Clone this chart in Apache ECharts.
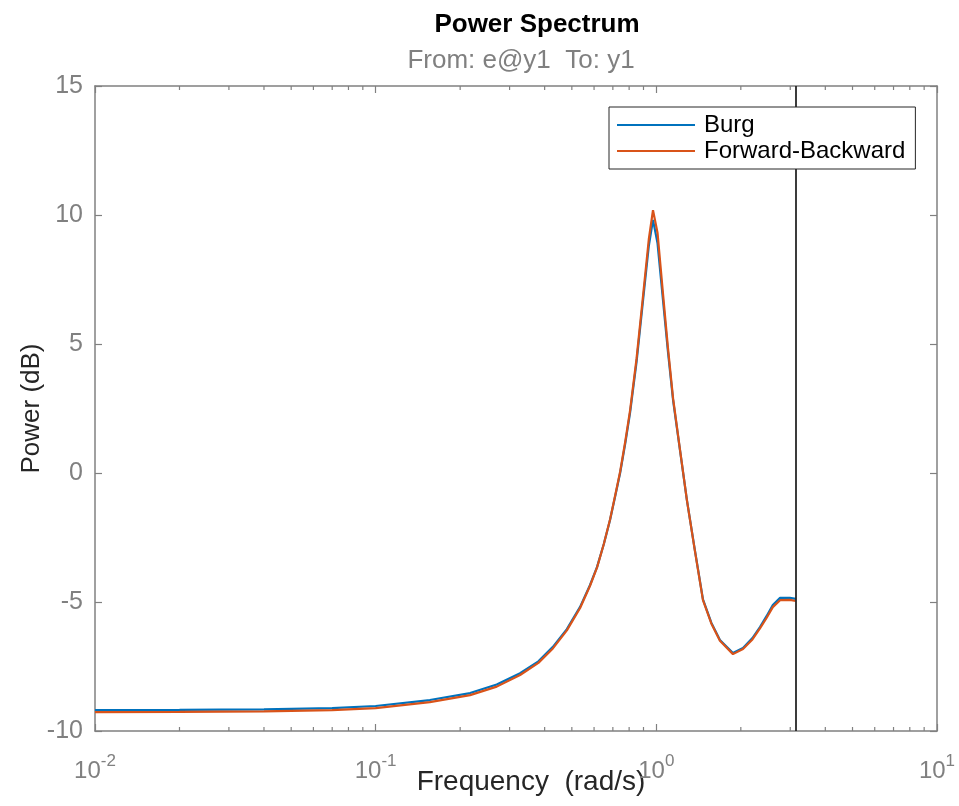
<!DOCTYPE html>
<html>
<head>
<meta charset="utf-8">
<title>Power Spectrum</title>
<script src="https://cdn.jsdelivr.net/npm/echarts@6/dist/echarts.min.js"></script>
<style>
	html, body { margin: 0; padding: 0; background: #fff; }
	#chart { width: 959px; height: 806px; }
</style>
</head>
<body>
<div id="chart"></div>
<script>
// frequency grid (rad/s)
const freq = [0.01, 0.02, 0.04, 0.07, 0.1, 0.156, 0.217, 0.27, 0.327, 0.38, 0.428, 0.48,
	0.535, 0.58, 0.615, 0.65, 0.684, 0.715, 0.743, 0.775, 0.806, 0.85, 0.897, 0.94, 0.973,
	1.01, 1.056, 1.1, 1.147, 1.21, 1.285, 1.37, 1.466, 1.57, 1.685, 1.875, 2.036, 2.2, 2.34,
	2.47, 2.6, 2.76, 2.99, 3.14];
// Burg
const burg = [-9.19, -9.18, -9.16, -9.11, -9.03, -8.80, -8.53, -8.2, -7.76, -7.3, -6.74, -6.05,
	-5.19, -4.35, -3.64, -2.75, -1.82, -0.85, 0.0, 1.15, 2.33, 4.3, 6.71, 8.8, 9.81,
	8.9, 6.71, 4.7, 2.83, 1.0, -1.05, -2.95, -4.9, -5.8, -6.47, -6.98, -6.78, -6.4, -5.97,
	-5.55, -5.12, -4.84, -4.84, -4.88];
// Forward-Backward
const fwdBwd = [-9.27, -9.26, -9.24, -9.19, -9.11, -8.88, -8.61, -8.28, -7.83, -7.36, -6.8, -6.1,
	-5.23, -4.38, -3.66, -2.75, -1.8, -0.82, 0.05, 1.22, 2.42, 4.42, 6.88, 9.05, 10.19,
	9.3, 6.95, 4.85, 2.9, 1.02, -1.05, -2.97, -4.93, -5.83, -6.5, -7.02, -6.82, -6.45, -6.02,
	-5.62, -5.2, -4.93, -4.92, -4.96];
const nyquist = 3.1416; // vertical line
const minorTicks = [0.02, 0.03, 0.04, 0.05, 0.06, 0.07, 0.08, 0.09,
	0.2, 0.3, 0.4, 0.5, 0.6, 0.7, 0.8, 0.9,
	2, 3, 4, 5, 6, 7, 8, 9];

const FONT = "'Liberation Sans', Arial, sans-serif";
const GRAY = '#808080';

const chart = echarts.init(document.getElementById('chart'));

const logAxis = (pos, showLabel) => ({
	type: 'log',
	logBase: 10,
	min: 0.01,
	max: 10,
	position: pos,
	axisLine: { show: true, onZero: false, lineStyle: { color: GRAY, width: 1.5 } },
	axisTick: { show: true, inside: true, length: 7, lineStyle: { color: GRAY, width: 1.2 } },
	splitLine: { show: false },
	minorTick: { show: false },
	axisLabel: {
		show: showLabel,
		margin: 22,
		formatter: v => '{b|10}{s|' + Math.round(Math.log10(v)) + '}',
		rich: {
			b: { fontFamily: FONT, fontSize: 24, color: GRAY, verticalAlign: 'bottom' },
			s: { fontFamily: FONT, fontSize: 17, color: GRAY, padding: [0, 0, 13, 0], verticalAlign: 'bottom' }
		}
	}
});

const valAxis = (pos, showLabel) => ({
	type: 'value',
	min: -10,
	max: 15,
	interval: 5,
	position: pos,
	axisLine: { show: true, onZero: false, lineStyle: { color: GRAY, width: 1.5 } },
	axisTick: { show: true, inside: true, length: 7, lineStyle: { color: GRAY, width: 1.2 } },
	splitLine: { show: false },
	axisLabel: { show: showLabel, margin: 12, fontFamily: FONT, fontSize: 25, color: GRAY }
});

const xMain = logAxis('bottom', true);
xMain.name = 'Frequency  (rad/s)';
xMain.nameLocation = 'middle';
xMain.nameGap = 37;
xMain.nameMoveOverlap = false;
xMain.nameTextStyle = { fontFamily: FONT, fontSize: 28, color: '#262626', padding: [0, 0, 0, 30] };

const yMain = valAxis('left', true);
yMain.name = 'Power (dB)';
yMain.nameLocation = 'middle';
yMain.nameGap = 50;
yMain.nameMoveOverlap = false;
yMain.nameTextStyle = { fontFamily: FONT, fontSize: 26, color: '#262626' };

const options = {
	animation: false,
	textStyle: { fontFamily: FONT },
	title: [
		{
			text: 'Power Spectrum',
			left: 532, textAlign: 'center', top: 7,
			textStyle: { fontFamily: FONT, fontSize: 26, fontWeight: 'bold', color: '#000' }
		},
		{
			text: 'From: e@y1  To: y1',
			left: 516, textAlign: 'center', top: 43,
			textStyle: { fontFamily: FONT, fontSize: 26, fontWeight: 'normal', color: GRAY }
		}
	],
	legend: {
		data: ['Burg', 'Forward-Backward'],
		orient: 'vertical',
		left: 609,
		top: 107,
		z: 20,
		padding: [6, 10, 6, 8],
		itemGap: 2,
		itemWidth: 78,
		itemHeight: 2,
		icon: 'rect',
		backgroundColor: '#fff',
		borderColor: '#262626',
		borderWidth: 1,
		textStyle: { fontFamily: FONT, fontSize: 24, color: '#000', padding: [0, 0, 0, 4] }
	},
	grid: { left: 95, right: 22, top: 86, bottom: 75, outerBoundsMode: 'none' },
	xAxis: [xMain, logAxis('top', false)],
	yAxis: [yMain, valAxis('right', false)],
	series: [
		{
			name: 'Burg',
			type: 'line',
			data: freq.map((f, i) => [f, burg[i]]),
			showSymbol: false,
			color: '#0072BD',
			lineStyle: { width: 2.2 },
			markLine: {
				silent: true,
				symbol: ['none', 'none'],
				label: { show: false },
				lineStyle: { color: '#262626', width: 1.8, type: 'solid' },
				data: [{ xAxis: nyquist }]
			}
		},
		{
			name: 'Forward-Backward',
			type: 'line',
			data: freq.map((f, i) => [f, fwdBwd[i]]),
			showSymbol: false,
			color: '#D95319',
			lineStyle: { width: 2.2 }
		},
		{
			// minor log ticks on bottom and top edges
			type: 'custom',
			silent: true,
			clip: false,
			data: minorTicks.map(t => [t, -10]),
			renderItem: (params, api) => {
				const x = api.coord([api.value(0), -10])[0];
				const cs = params.coordSys;
				const yb = cs.y + cs.height;
				const yt = cs.y;
				const st = { stroke: GRAY, lineWidth: 1.2 };
				return {
					type: 'group',
					children: [
						{ type: 'line', shape: { x1: x, y1: yb, x2: x, y2: yb - 4 }, style: st },
						{ type: 'line', shape: { x1: x, y1: yt, x2: x, y2: yt + 4 }, style: st }
					]
				};
			}
		}
	]
};

chart.setOption(options);
</script>
</body>
</html>
